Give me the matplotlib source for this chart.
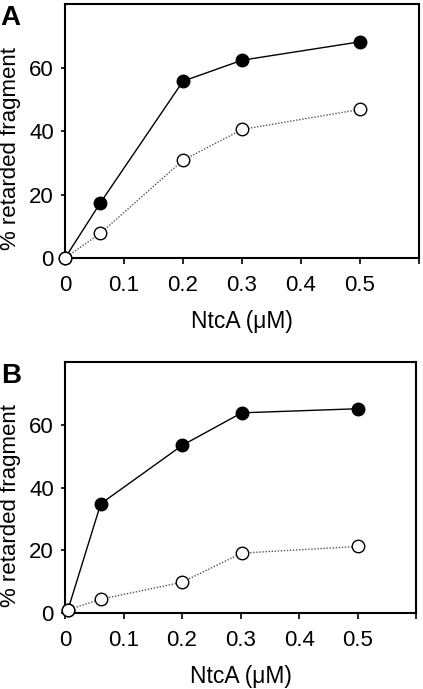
import matplotlib.pyplot as plt

plt.rcParams["font.family"] = ["Liberation Sans", "DejaVu Sans"]

# panel A
a_x_filled = [0.0, 0.06, 0.2, 0.3, 0.5]
a_y_filled = [0.0, 17.4, 55.7, 62.3, 68.1]
a_x_open = [0.0, 0.06, 0.2, 0.3, 0.5]
a_y_open = [0.0, 7.8, 30.8, 40.5, 46.8]

# panel B
b_x_filled = [0.005, 0.061, 0.2, 0.302, 0.5]
b_y_filled = [1.0, 34.8, 53.4, 63.8, 65.1]
b_x_open = [0.005, 0.061, 0.2, 0.302, 0.5]
b_y_open = [1.0, 4.4, 9.8, 19.1, 21.2]

x_ticks = [0, 0.1, 0.2, 0.3, 0.4, 0.5, 0.6]
x_ticklabels = ["0", "0.1", "0.2", "0.3", "0.4", "0.5", ""]
y_ticks = [0, 20, 40, 60]


def draw_panel(ax, xf, yf, xo, yo, letter):
    ax.plot(xf, yf, color="black", linewidth=1.0, marker="o", markersize=9,
            markerfacecolor="black", markeredgecolor="black", clip_on=False, zorder=3)
    ax.plot(xo, yo, color="#555555", linewidth=1.0, linestyle=(0, (1, 1.2)),
            marker="o", markersize=9, markerfacecolor="white",
            markeredgecolor="black", markeredgewidth=1.0, clip_on=False, zorder=4)
    ax.set_xlim(0, 0.6)
    ax.set_ylim(0, 80)
    ax.set_xticks(x_ticks)
    ax.set_xticklabels(x_ticklabels)
    ax.set_yticks(y_ticks)
    ax.tick_params(axis="x", direction="out", length=4, width=1.2, pad=8, labelsize=16)
    ax.tick_params(axis="y", direction="out", length=3, width=1.2, pad=5, labelsize=16)
    for s in ax.spines.values():
        s.set_linewidth(1.5)
    ax.set_xlabel("NtcA (\u03bcM)", fontsize=16.5, labelpad=10)
    ax.set_ylabel("% retarded fragment", fontsize=16)
    # ylabel anchor is the right edge of the rotated text
    ax.yaxis.set_label_coords(-0.124, 0.43)
    ax.text(-0.182, 0.997, letter, transform=ax.transAxes, fontsize=20,
            fontweight="bold", ha="left", va="top")


fig = plt.figure(figsize=(4.23, 6.89), dpi=100)
ax_a = fig.add_axes([0.1537, 0.6255, 0.837, 0.3687])
ax_b = fig.add_axes([0.1537, 0.1103, 0.830, 0.3643])

draw_panel(ax_a, a_x_filled, a_y_filled, a_x_open, a_y_open, "A")
draw_panel(ax_b, b_x_filled, b_y_filled, b_x_open, b_y_open, "B")

fig.savefig("out.png", dpi=100)
